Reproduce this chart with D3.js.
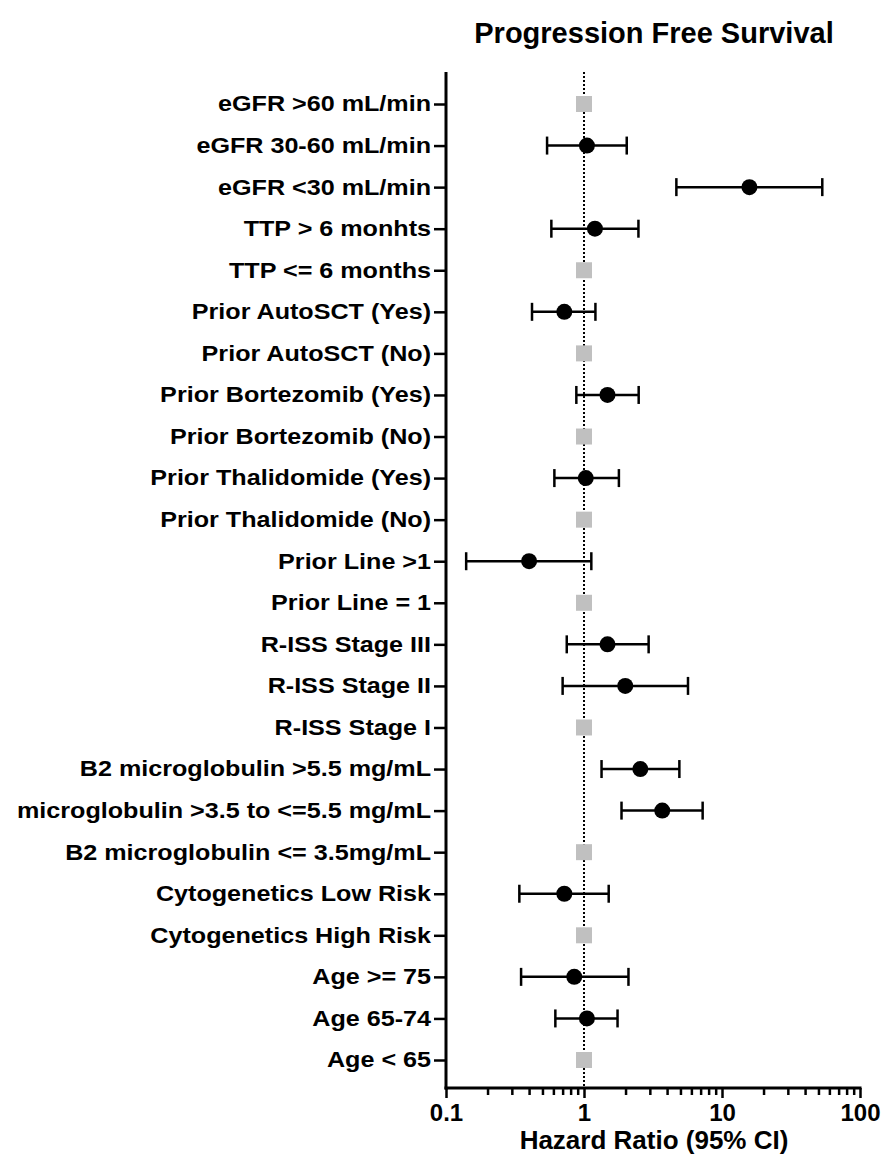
<!DOCTYPE html>
<html>
<head>
<meta charset="utf-8">
<script src="https://cdn.jsdelivr.net/npm/d3@7"></script>
<style>
  body { margin: 0; background: #fff; }
  svg { display: block; font-family: "Liberation Sans", Arial, sans-serif; font-weight: bold; }
</style>
</head>
<body>
<svg id="chart"></svg>
<script>
// rows from top to bottom
let labels = [
  'eGFR >60 mL/min', 'eGFR 30-60 mL/min', 'eGFR <30 mL/min',
  'TTP > 6 monhts', 'TTP <= 6 months',
  'Prior AutoSCT (Yes)', 'Prior AutoSCT (No)',
  'Prior Bortezomib (Yes)', 'Prior Bortezomib (No)',
  'Prior Thalidomide (Yes)', 'Prior Thalidomide (No)',
  'Prior Line >1', 'Prior Line = 1',
  'R-ISS Stage III', 'R-ISS Stage II', 'R-ISS Stage I',
  'B2 microglobulin >5.5 mg/mL', 'microglobulin >3.5 to <=5.5 mg/mL', 'B2 microglobulin <= 3.5mg/mL',
  'Cytogenetics Low Risk', 'Cytogenetics High Risk',
  'Age >= 75', 'Age 65-74', 'Age < 65'
];

// hazard ratio, null bounds mean reference group
let hr =    [1, 1.05, 15.8, 1.20, 1, 0.72, 1, 1.48, 1, 1.03, 1, 0.40, 1, 1.48, 1.99, 1, 2.56, 3.69, 1, 0.72, 1, 0.85, 1.05, 1];
let lower = [null, 0.54, 4.67, 0.58, null, 0.42, null, 0.88, null, 0.61, null, 0.14, null, 0.75, 0.70, null, 1.34, 1.87, null, 0.34, null, 0.35, 0.62, null];
let upper = [null, 2.04, 53.3, 2.48, null, 1.21, null, 2.49, null, 1.79, null, 1.13, null, 2.94, 5.67, null, 4.91, 7.24, null, 1.51, null, 2.10, 1.75, null];

let majorTicks = [0.1, 1, 10, 100];
let minorTicks = [0.2, 0.3, 0.4, 0.5, 0.6, 0.7, 0.8, 0.9, 2, 3, 4, 5, 6, 7, 8, 9, 20, 30, 40, 50, 60, 70, 80, 90];

let width = 881;
let height = 1155;
let plotTop = 72;
let plotBottom = 1088;
let plotLeft = 446;
let plotRight = 860;

let rows = labels.map((l, i) => ({label: l, hr: hr[i], lo: lower[i], hi: upper[i]}));

let svg = d3.select('#chart').attr('width', width).attr('height', height);

let xScale = d3.scaleLog().domain([0.1, 100]).range([plotLeft, plotRight]);
let yScale = d3.scalePoint().domain(labels).range([104, 1060]);

// title
svg.append('text')
   .attr('x', 654).attr('y', 43)
   .attr('text-anchor', 'middle')
   .style('font-size', '29px')
   .text('Progression Free Survival');

// reference line at HR = 1
svg.append('line')
   .attr('x1', xScale(1)).attr('x2', xScale(1))
   .attr('y1', plotTop).attr('y2', plotBottom)
   .attr('stroke', '#000').attr('stroke-width', 2)
   .attr('stroke-dasharray', '2,2');

// y axis
let yAxis = d3.axisLeft(yScale).tickSize(12).tickPadding(2).tickSizeOuter(0);
let gy = svg.append('g')
   .attr('transform', 'translate(' + plotLeft + ',0)')
   .call(yAxis);
gy.select('.domain').remove();
gy.selectAll('.tick line').attr('stroke-width', 2.5);
gy.selectAll('.tick text')
  .attr('x', -15 / 1.17)
  .attr('transform', 'scale(1.17,1)')
  .attr('fill', '#000')
  .style('font-size', '21.5px')
  .style('font-family', '"Liberation Sans", Arial, sans-serif')
  .style('font-weight', 'bold');
svg.append('line')
   .attr('x1', plotLeft).attr('x2', plotLeft)
   .attr('y1', plotTop).attr('y2', plotBottom + 1.5)
   .attr('stroke', '#000').attr('stroke-width', 3);

// x axis, minor ticks then major ticks with labels
let minorAxis = d3.axisBottom(xScale).tickValues(minorTicks).tickSize(7).tickFormat('');
let gMinor = svg.append('g')
   .attr('transform', 'translate(0,' + plotBottom + ')')
   .call(minorAxis);
gMinor.select('.domain').remove();
gMinor.selectAll('.tick line').attr('stroke-width', 2.5);

let xAxis = d3.axisBottom(xScale).tickValues(majorTicks).tickSize(10).tickPadding(6)
              .tickFormat(d => d < 1 ? d3.format('.1f')(d) : d3.format('d')(d));
let gx = svg.append('g')
   .attr('transform', 'translate(0,' + plotBottom + ')')
   .call(xAxis);
gx.select('.domain').remove();
gx.selectAll('.tick line').attr('stroke-width', 2.5);
gx.selectAll('.tick text')
  .attr('fill', '#000')
  .style('font-size', '24px')
  .style('font-family', '"Liberation Sans", Arial, sans-serif')
  .style('font-weight', 'bold');
svg.append('line')
   .attr('x1', plotLeft - 1.5).attr('x2', plotRight + 1.5)
   .attr('y1', plotBottom).attr('y2', plotBottom)
   .attr('stroke', '#000').attr('stroke-width', 3);

// axis title
svg.append('text')
   .attr('x', 654).attr('y', 1149)
   .attr('text-anchor', 'middle')
   .style('font-size', '26px')
   .text('Hazard Ratio (95% CI)');

let estimates = rows.filter(d => d.lo !== null);
let refs = rows.filter(d => d.lo === null);

// confidence intervals
let ci = svg.append('g').attr('stroke', '#000').attr('stroke-width', 2.5);
ci.selectAll('.ci')
  .data(estimates)
  .enter()
  .append('line')
  .attr('class', 'ci')
  .attr('x1', d => xScale(d.lo))
  .attr('x2', d => xScale(d.hi))
  .attr('y1', d => yScale(d.label))
  .attr('y2', d => yScale(d.label));
ci.selectAll('.capLo')
  .data(estimates)
  .enter()
  .append('line')
  .attr('class', 'capLo')
  .attr('x1', d => xScale(d.lo)).attr('x2', d => xScale(d.lo))
  .attr('y1', d => yScale(d.label) - 9)
  .attr('y2', d => yScale(d.label) + 9);
ci.selectAll('.capHi')
  .data(estimates)
  .enter()
  .append('line')
  .attr('class', 'capHi')
  .attr('x1', d => xScale(d.hi)).attr('x2', d => xScale(d.hi))
  .attr('y1', d => yScale(d.label) - 9)
  .attr('y2', d => yScale(d.label) + 9);

// point estimates
svg.selectAll('.dot')
   .data(estimates)
   .enter()
   .append('circle')
   .attr('class', 'dot')
   .attr('cx', d => xScale(d.hr))
   .attr('cy', d => yScale(d.label))
   .attr('r', 8)
   .attr('fill', '#000');

// reference groups
svg.selectAll('.ref')
   .data(refs)
   .enter()
   .append('rect')
   .attr('class', 'ref')
   .attr('x', d => xScale(d.hr) - 8)
   .attr('y', d => yScale(d.label) - 8)
   .attr('width', 16)
   .attr('height', 16)
   .attr('fill', '#c0c0c0');
</script>
</body>
</html>
